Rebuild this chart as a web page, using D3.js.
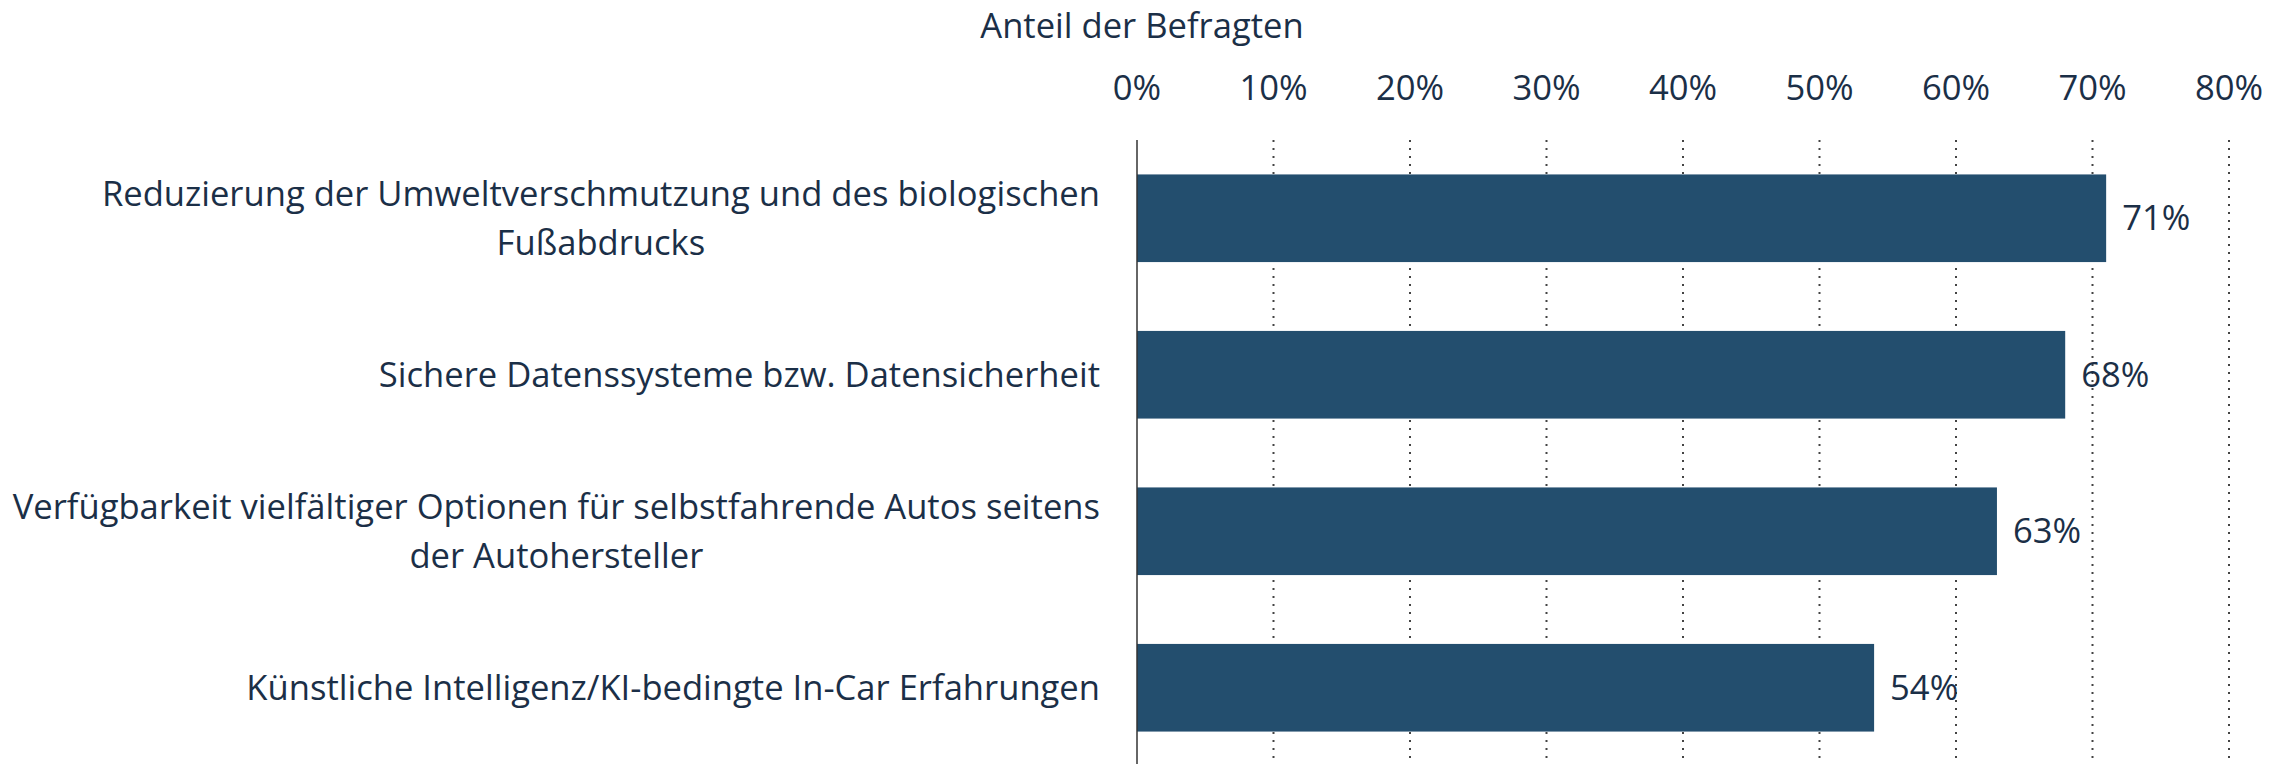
<!DOCTYPE html>
<html>
<head>
<meta charset="utf-8">
<script src="https://cdn.jsdelivr.net/npm/d3@7"></script>
<style>
  body { margin: 0; background: #fff; }
  text { font-family: "Open Sans", sans-serif; fill: #1b2f47; }
</style>
</head>
<body>
<script>
var w = 2270;
var h = 764;

// data
var categories = [
    "Reduzierung der Umweltverschmutzung und des biologischen\nFußabdrucks",
    "Sichere Datenssysteme bzw. Datensicherheit",
    "Verfügbarkeit vielfältiger Optionen für selbstfahrende Autos seitens\nder Autohersteller",
    "Künstliche Intelligenz/KI-bedingte In-Car Erfahrungen"
];
var values = [71, 68, 63, 54];
var tickValues = [0, 10, 20, 30, 40, 50, 60, 70, 80];
var axisTitle = "Anteil der Befragten";

var fontSize = 34.6;

var svg = d3.select("body")
    .append("svg")
    .attr("width", w)
    .attr("height", h);

var x = d3.scaleLinear()
    .domain([0, 80])
    .range([1137, 2229]);

var y = d3.scaleBand()
    .domain(categories)
    .range([140, 766])
    .paddingInner(0.44)
    .paddingOuter(0.22);

// dotted gridlines
svg.selectAll(".grid")
    .data(tickValues.filter(function(d) { return d > 0; }))
    .enter()
    .append("line")
    .attr("class", "grid")
    .attr("x1", function(d) { return x(d); })
    .attr("x2", function(d) { return x(d); })
    .attr("y1", 140)
    .attr("y2", h)
    .attr("stroke", "#444")
    .attr("stroke-width", 2)
    .attr("stroke-dasharray", "2,6");

// bars
svg.selectAll(".bar")
    .data(values)
    .enter()
    .append("rect")
    .attr("class", "bar")
    .attr("x", x(0))
    .attr("y", function(d, i) { return y(categories[i]); })
    .attr("width", function(d) { return x(d) - x(0); })
    .attr("height", y.bandwidth())
    .attr("fill", "#234e6e");

// zero line
svg.append("line")
    .attr("x1", x(0)).attr("x2", x(0))
    .attr("y1", 140).attr("y2", h)
    .attr("stroke", "#333")
    .attr("stroke-width", 1.5);

// top axis labels
svg.selectAll(".tick")
    .data(tickValues)
    .enter()
    .append("text")
    .attr("class", "tick")
    .attr("x", function(d) { return x(d); })
    .attr("y", 100)
    .attr("text-anchor", "middle")
    .style("font-size", fontSize + "px")
    .text(function(d) { return d + "%"; });

svg.append("text")
    .attr("x", x(0) + 5)
    .attr("y", 38)
    .attr("text-anchor", "middle")
    .style("font-size", fontSize + "px")
    .text(axisTitle);

// value labels
svg.selectAll(".val")
    .data(values)
    .enter()
    .append("text")
    .attr("class", "val")
    .attr("x", function(d) { return x(d) + 16; })
    .attr("y", function(d, i) { return y(categories[i]) + y.bandwidth() / 2; })
    .attr("dy", "0.35em")
    .style("font-size", fontSize + "px")
    .text(function(d) { return d + "%"; });

// category labels, lines centred inside a right-aligned block
var lineH = 49;
var labelRight = 1100;
categories.forEach(function(c) {
    var lines = c.split("\n");
    var cy = y(c) + y.bandwidth() / 2;
    var g = svg.append("g");
    var t = g.selectAll("text")
        .data(lines)
        .enter()
        .append("text")
        .attr("y", function(d, i) { return cy + (i - (lines.length - 1) / 2) * lineH; })
        .attr("dy", "0.35em")
        .attr("text-anchor", "middle")
        .style("font-size", fontSize + "px")
        .text(function(d) { return d; });
    var maxW = d3.max(t.nodes(), function(n) { return n.getComputedTextLength(); });
    t.attr("x", labelRight - maxW / 2);
});
</script>
</body>
</html>
